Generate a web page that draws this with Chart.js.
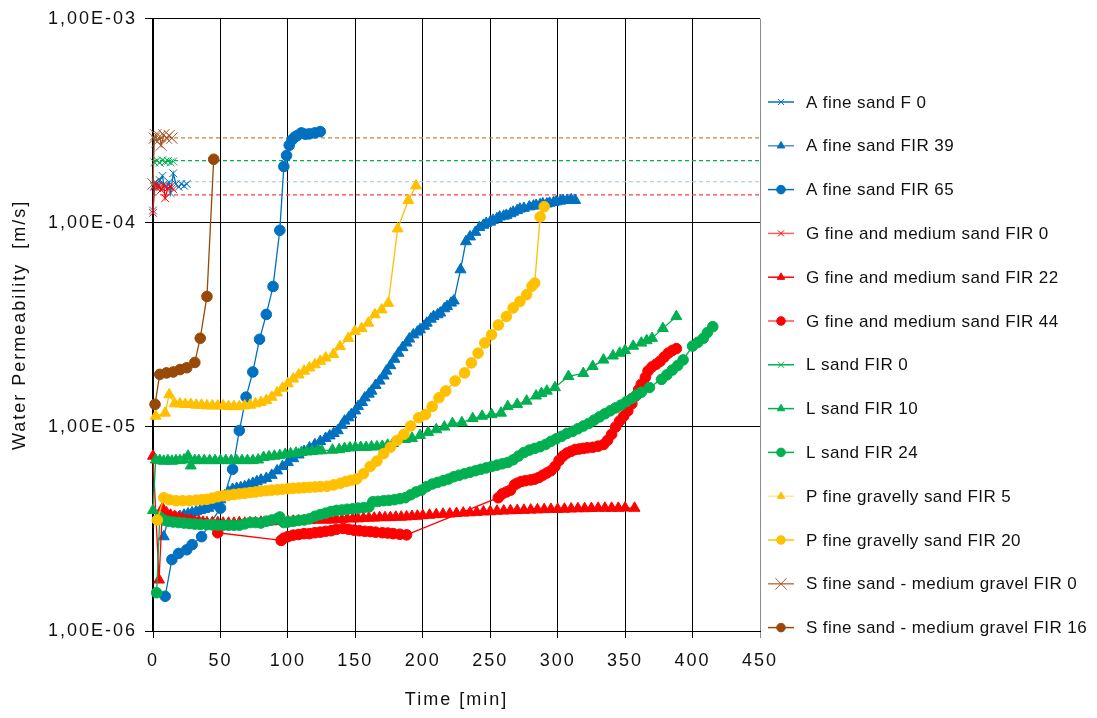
<!DOCTYPE html>
<html>
<head>
<meta charset="utf-8">
<script src="https://cdn.jsdelivr.net/npm/chart.js@4.4.1/dist/chart.umd.min.js"></script>
<style>
  html, body { margin: 0; padding: 0; background: #fff; }
  #wrap { width: 1097px; height: 718px; }
</style>
</head>
<body>
<div id="wrap"><canvas id="chart"></canvas></div>
<script>
// axis ticks
const xTickStep = 50;
const yTicks = [1e-6, 1e-5, 1e-4, 1e-3];

// [time min, permeability m/s]
const aF0 = [[0,1.15e-4],[1,1.5e-4],[2,1.58e-4],[4,1.52e-4],[5,1.62e-4],[7,1.7e-4],[8,1.55e-4],[10,1.5e-4],[12,1.58e-4],[13,1.4e-4],[15,1.75e-4],[17,1.55e-4],[19,1.5e-4],[21,1.55e-4],[23,1.52e-4],[25,1.55e-4]];
const aFir39 = [[8,2.9e-6],[11,3.5e-6],[14,3.55e-6],[17,3.6e-6],[20,3.65e-6],[23,3.7e-6],[26,3.75e-6],[29,3.8e-6],[32,3.85e-6],[35,3.9e-6],[38,3.95e-6],[41,4.0e-6],[44,4.1e-6],[47,4.25e-6],[50,4.4e-6],[53,4.6e-6],[56,4.8e-6],[59,4.95e-6],[62,5.0e-6],[65,5.05e-6],[68,5.1e-6],[71,5.2e-6],[74,5.3e-6],[77,5.4e-6],[80,5.5e-6],[84,5.6e-6],[88,5.8e-6],[92,6.1e-6],[96,6.4e-6],[100,6.7e-6],[104,7.0e-6],[108,7.3e-6],[112,7.6e-6],[116,7.9e-6],[120,8.2e-6],[124,8.5e-6],[128,8.8e-6],[131,9.05e-6],[134,9.3e-6],[137,9.6e-6],[140,1.02e-5],[142,1.07e-5],[145,1.11e-5],[147,1.15e-5],[150,1.2e-5],[152,1.26e-5],[155,1.32e-5],[157,1.39e-5],[160,1.45e-5],[162,1.5e-5],[165,1.6e-5],[168,1.68e-5],[171,1.78e-5],[173,1.88e-5],[176,2.0e-5],[179,2.15e-5],[182,2.3e-5],[185,2.45e-5],[188,2.58e-5],[190,2.7e-5],[193,2.83e-5],[196,2.92e-5],[198,3.0e-5],[201,3.12e-5],[203,3.23e-5],[206,3.38e-5],[208,3.48e-5],[211,3.55e-5],[213,3.62e-5],[216,3.8e-5],[218,3.9e-5],[221,4.05e-5],[223,4.15e-5],[228,5.9e-5],[232,8.1e-5],[235,8.55e-5],[239,9.0e-5],[242,9.5e-5],[245,9.75e-5],[247,9.95e-5],[250,1.01e-4],[252,1.03e-4],[255,1.05e-4],[257,1.07e-4],[260,1.08e-4],[262,1.09e-4],[265,1.11e-4],[267,1.13e-4],[270,1.15e-4],[272,1.17e-4],[275,1.18e-4],[279,1.2e-4],[282,1.21e-4],[284,1.22e-4],[287,1.23e-4],[289,1.24e-4],[292,1.24e-4],[294,1.25e-4],[297,1.26e-4],[299,1.27e-4],[302,1.28e-4],[304,1.29e-4],[307,1.29e-4],[310,1.3e-4],[313,1.29e-4]];
const aFir65 = [[9,1.48e-6],[14,2.24e-6],[19,2.4e-6],[25,2.5e-6],[29,2.65e-6],[36,2.9e-6],[50,4.0e-6],[59,6.2e-6],[64,9.6e-6],[69,1.4e-5],[74,1.86e-5],[79,2.69e-5],[84,3.56e-5],[89,4.88e-5],[94,9.2e-5],[97,1.89e-4],[99,2.14e-4],[101,2.4e-4],[103,2.55e-4],[105,2.63e-4],[107,2.68e-4],[110,2.76e-4],[113,2.72e-4],[116,2.73e-4],[120,2.76e-4],[124,2.8e-4]];
const gF0 = [[0,1.12e-4],[1,1.52e-4],[2,1.55e-4],[3,1.48e-4],[5,1.5e-4],[6,1.45e-4],[8,1.52e-4],[9,1.32e-4],[11,1.48e-4],[13,1.5e-4],[15,1.46e-4]];
const gFir22 = [[0,7.2e-6],[4.5,1.78e-6],[7,4.0e-6],[10,3.8e-6],[13,3.7e-6],[16,3.65e-6],[19,3.6e-6],[22,3.55e-6],[25,3.5e-6],[28,3.5e-6],[31,3.45e-6],[34,3.45e-6],[37,3.42e-6],[40,3.4e-6],[44,3.4e-6],[48,3.4e-6],[52,3.38e-6],[56,3.38e-6],[60,3.38e-6],[64,3.4e-6],[68,3.38e-6],[72,3.4e-6],[76,3.4e-6],[80,3.42e-6],[84,3.42e-6],[88,3.44e-6],[92,3.44e-6],[96,3.45e-6],[100,3.45e-6],[104,3.46e-6],[108,3.47e-6],[112,3.48e-6],[116,3.48e-6],[120,3.5e-6],[124,3.5e-6],[128,3.5e-6],[132,3.5e-6],[136,3.52e-6],[140,3.52e-6],[144,3.55e-6],[148,3.55e-6],[152,3.55e-6],[156,3.57e-6],[160,3.58e-6],[164,3.58e-6],[168,3.6e-6],[172,3.6e-6],[176,3.6e-6],[180,3.62e-6],[184,3.62e-6],[188,3.63e-6],[192,3.65e-6],[196,3.66e-6],[200,3.68e-6],[205,3.7e-6],[210,3.72e-6],[215,3.74e-6],[220,3.75e-6],[225,3.77e-6],[230,3.79e-6],[235,3.8e-6],[240,3.82e-6],[245,3.84e-6],[250,3.85e-6],[255,3.87e-6],[260,3.88e-6],[265,3.89e-6],[270,3.9e-6],[275,3.91e-6],[280,3.92e-6],[285,3.93e-6],[290,3.94e-6],[295,3.95e-6],[300,3.95e-6],[305,3.96e-6],[310,3.97e-6],[315,3.98e-6],[320,3.98e-6],[325,3.99e-6],[330,4.0e-6],[335,4.0e-6],[340,4.0e-6],[345,4.0e-6],[350,4.01e-6],[357,4.0e-6]];
const gFir44 = [[48,3.03e-6],[95,2.78e-6],[97,2.85e-6],[100,2.9e-6],[104,2.95e-6],[108,2.97e-6],[112,3.0e-6],[116,3.0e-6],[120,3.03e-6],[124,3.05e-6],[128,3.08e-6],[132,3.1e-6],[136,3.15e-6],[141,3.18e-6],[145,3.15e-6],[149,3.12e-6],[153,3.1e-6],[157,3.08e-6],[161,3.07e-6],[165,3.05e-6],[170,3.03e-6],[174,3.02e-6],[178,3.0e-6],[183,2.98e-6],[188,2.96e-6],[256,4.5e-6],[259,4.7e-6],[262,4.8e-6],[265,4.9e-6],[268,5.2e-6],[270,5.3e-6],[273,5.4e-6],[276,5.45e-6],[280,5.5e-6],[283,5.55e-6],[286,5.65e-6],[289,5.8e-6],[292,5.95e-6],[295,6.1e-6],[298,6.4e-6],[301,6.85e-6],[304,7.2e-6],[307,7.45e-6],[310,7.6e-6],[313,7.75e-6],[316,7.8e-6],[319,7.85e-6],[322,7.9e-6],[326,7.95e-6],[330,8.05e-6],[334,8.2e-6],[337,8.6e-6],[340,9.2e-6],[343,1.0e-5],[346,1.07e-5],[349,1.13e-5],[352,1.2e-5],[355,1.3e-5],[358,1.42e-5],[360,1.52e-5],[362,1.62e-5],[365,1.75e-5],[367,1.88e-5],[370,1.97e-5],[373,2.03e-5],[376,2.1e-5],[379,2.2e-5],[382,2.3e-5],[385,2.37e-5],[388,2.42e-5]];
const lF0 = [[1,1.98e-4],[3,2.02e-4],[5,1.97e-4],[7,2.03e-4],[9,1.99e-4],[11,2.01e-4],[13,1.98e-4],[15,2.0e-4]];
const lFir10 = [[0,3.9e-6],[2,6.9e-6],[5,6.85e-6],[8,6.8e-6],[11,6.85e-6],[14,6.8e-6],[17,6.85e-6],[20,6.85e-6],[23,6.9e-6],[26,7.2e-6],[28,6.45e-6],[31,6.85e-6],[34,6.85e-6],[38,6.85e-6],[42,6.85e-6],[46,6.85e-6],[50,6.85e-6],[54,6.85e-6],[58,6.85e-6],[62,6.85e-6],[66,6.85e-6],[70,6.85e-6],[74,6.85e-6],[78,6.9e-6],[82,7.1e-6],[86,7.15e-6],[90,7.2e-6],[94,7.25e-6],[98,7.35e-6],[102,7.4e-6],[106,7.45e-6],[110,7.5e-6],[114,7.55e-6],[118,7.6e-6],[122,7.65e-6],[125,7.65e-6],[133,7.7e-6],[138,7.75e-6],[142,7.85e-6],[146,7.9e-6],[150,7.95e-6],[154,7.95e-6],[158,7.95e-6],[162,8.0e-6],[166,8.0e-6],[170,8.05e-6],[174,8.15e-6],[178,8.3e-6],[183,8.7e-6],[187,8.7e-6],[192,8.8e-6],[198,9.1e-6],[204,9.4e-6],[210,9.7e-6],[216,1.0e-5],[222,1.04e-5],[229,1.05e-5],[237,1.1e-5],[244,1.13e-5],[251,1.15e-5],[258,1.17e-5],[263,1.26e-5],[270,1.29e-5],[277,1.34e-5],[284,1.42e-5],[288,1.46e-5],[292,1.5e-5],[298,1.56e-5],[308,1.77e-5],[319,1.83e-5],[326,1.98e-5],[334,2.13e-5],[341,2.23e-5],[346,2.3e-5],[350,2.37e-5],[356,2.49e-5],[362,2.58e-5],[366,2.65e-5],[370,2.72e-5],[378,3.04e-5],[388,3.48e-5]];
const lFir24 = [[2.7,1.54e-6],[5,3.6e-6],[8,3.5e-6],[11,3.45e-6],[15,3.42e-6],[19,3.4e-6],[23,3.38e-6],[27,3.36e-6],[31,3.34e-6],[35,3.33e-6],[40,3.32e-6],[44,3.31e-6],[48,3.3e-6],[52,3.3e-6],[56,3.3e-6],[60,3.3e-6],[64,3.3e-6],[68,3.35e-6],[72,3.4e-6],[76,3.4e-6],[80,3.38e-6],[84,3.45e-6],[88,3.5e-6],[92,3.55e-6],[94,3.62e-6],[97,3.4e-6],[100,3.42e-6],[104,3.45e-6],[108,3.48e-6],[112,3.5e-6],[116,3.55e-6],[120,3.65e-6],[124,3.72e-6],[128,3.78e-6],[132,3.85e-6],[136,3.9e-6],[140,3.92e-6],[144,3.95e-6],[148,3.97e-6],[152,4.0e-6],[156,4.02e-6],[160,4.05e-6],[163,4.3e-6],[167,4.32e-6],[171,4.35e-6],[175,4.37e-6],[179,4.4e-6],[183,4.45e-6],[187,4.5e-6],[191,4.65e-6],[195,4.8e-6],[199,4.9e-6],[203,5.1e-6],[207,5.25e-6],[211,5.35e-6],[215,5.45e-6],[219,5.55e-6],[223,5.7e-6],[227,5.8e-6],[231,5.9e-6],[235,6.0e-6],[239,6.1e-6],[243,6.2e-6],[247,6.3e-6],[251,6.4e-6],[255,6.5e-6],[259,6.6e-6],[263,6.7e-6],[267,6.9e-6],[271,7.2e-6],[275,7.5e-6],[279,7.7e-6],[283,7.85e-6],[287,8.0e-6],[291,8.2e-6],[295,8.5e-6],[299,8.75e-6],[303,9.0e-6],[307,9.3e-6],[311,9.5e-6],[315,9.8e-6],[319,1.01e-5],[323,1.04e-5],[327,1.08e-5],[331,1.12e-5],[335,1.16e-5],[339,1.2e-5],[343,1.24e-5],[347,1.28e-5],[351,1.33e-5],[355,1.38e-5],[359,1.44e-5],[362,1.48e-5],[368,1.56e-5],[377,1.71e-5],[381,1.8e-5],[385,1.9e-5],[389,2.0e-5],[393,2.13e-5],[400,2.49e-5],[404,2.6e-5],[408,2.72e-5],[411,2.9e-5],[415,3.1e-5]];
const pFir5 = [[2,1.13e-5],[9,1.17e-5],[12,1.44e-5],[16,1.3e-5],[20,1.3e-5],[24,1.29e-5],[28,1.29e-5],[32,1.28e-5],[36,1.28e-5],[40,1.27e-5],[44,1.27e-5],[48,1.27e-5],[52,1.27e-5],[56,1.26e-5],[60,1.26e-5],[64,1.26e-5],[68,1.27e-5],[72,1.28e-5],[76,1.3e-5],[80,1.32e-5],[84,1.35e-5],[88,1.4e-5],[92,1.47e-5],[96,1.55e-5],[100,1.63e-5],[104,1.72e-5],[108,1.8e-5],[112,1.88e-5],[116,1.95e-5],[120,2.02e-5],[124,2.1e-5],[128,2.18e-5],[133.7,2.27e-5],[138.6,2.48e-5],[144.8,2.72e-5],[149.7,2.94e-5],[154.7,3.04e-5],[159.6,3.23e-5],[164.5,3.55e-5],[169.5,3.75e-5],[174.4,4.04e-5],[181.4,9.36e-5],[189.3,1.29e-4],[195,1.52e-4]];
const pFir20 = [[3.2,3.5e-6],[8,4.5e-6],[12,4.4e-6],[17,4.35e-6],[22,4.35e-6],[27,4.35e-6],[32,4.38e-6],[36,4.4e-6],[40,4.42e-6],[44,4.48e-6],[48,4.55e-6],[52,4.6e-6],[56,4.63e-6],[60,4.67e-6],[64,4.7e-6],[68,4.73e-6],[72,4.77e-6],[76,4.8e-6],[80,4.85e-6],[84,4.87e-6],[88,4.9e-6],[92,4.92e-6],[96,4.95e-6],[100,4.98e-6],[104,5.0e-6],[108,5.02e-6],[112,5.04e-6],[116,5.06e-6],[120,5.08e-6],[124,5.1e-6],[129,5.12e-6],[134,5.2e-6],[139,5.3e-6],[143,5.4e-6],[147,5.48e-6],[151,5.56e-6],[156,5.9e-6],[161,6.4e-6],[166,6.8e-6],[171,7.4e-6],[176,7.95e-6],[181,8.6e-6],[186,9.2e-6],[191,1.01e-5],[197,1.11e-5],[202,1.15e-5],[207,1.26e-5],[212,1.39e-5],[217,1.5e-5],[224,1.68e-5],[231,1.84e-5],[236,2.06e-5],[241,2.3e-5],[246,2.58e-5],[251,2.83e-5],[256,3.16e-5],[262,3.48e-5],[267,3.83e-5],[272,4.12e-5],[277,4.45e-5],[281,4.9e-5],[283,5.07e-5],[287,1.07e-4],[290,1.2e-4]];
const sF0 = [[0,1.55e-4],[1,2.6e-4],[2,2.7e-4],[3,2.5e-4],[5,2.65e-4],[6,2.4e-4],[8,2.7e-4],[10,2.6e-4],[12,2.68e-4],[14,2.6e-4]];
const sFir16 = [[1.5,1.29e-5],[5,1.81e-5],[10,1.84e-5],[15,1.86e-5],[20,1.91e-5],[25,1.95e-5],[31,2.07e-5],[35,2.72e-5],[40,4.36e-5],[45,2.05e-4]];

// mean levels of the FIR 0 runs (dashed)
const meanX = [0, 450];
const meanA = 1.59e-4, meanG = 1.37e-4, meanL = 2.02e-4, meanS = 2.61e-4;

const FONT = '"Liberation Sans", Arial, sans-serif';
const toPts = arr => arr.map(p => ({ x: p[0], y: p[1] }));
const markerSize = { crossRot: 5.5, triangle: 6.3, circle: 5.3 };

function series(label, data, color, style, opts = {}) {
    return Object.assign({
        label: label,
        data: toPts(data),
        borderColor: color,
        backgroundColor: color,
        pointBackgroundColor: color,
        pointBorderColor: color,
        pointStyle: style,
        pointRadius: markerSize[style],
        pointBorderWidth: 1,
        borderWidth: 1.3,
        clip: false
    }, opts);
}

function meanLine(value, color) {
    return {
        label: '', hideInLegend: true,
        data: meanX.map(x => ({ x: x, y: value })),
        borderColor: color, borderWidth: 1.2, borderDash: [4, 3],
        pointRadius: 0, order: 100
    };
}

const datasets = [
    meanLine(meanS, '#C8824A'),
    meanLine(meanL, '#00B050'),
    meanLine(meanA, '#9DC3E6'),
    meanLine(meanG, '#FF4040'),
    series('A fine sand F 0', aF0, '#0070C0', 'crossRot'),
    series('A fine sand FIR 39', aFir39, '#0070C0', 'triangle', { legendLine: '#4F94D4' }),
    series('A fine sand FIR 65', aFir65, '#0070C0', 'circle'),
    series('G fine and medium sand FIR 0', gF0, '#FF0000', 'crossRot', { legendLine: '#FF6060' }),
    series('G fine and medium sand FIR 22', gFir22, '#FF0000', 'triangle'),
    series('G fine and medium sand FIR 44', gFir44, '#FF0000', 'circle', { legendLine: '#FF5050' }),
    series('L sand FIR 0', lF0, '#00B050', 'crossRot'),
    series('L sand FIR 10', lFir10, '#00B050', 'triangle'),
    series('L sand FIR 24', lFir24, '#00B050', 'circle'),
    series('P fine gravelly sand FIR 5', pFir5, '#FFC000', 'triangle', { legendLine: '#FFE699' }),
    series('P fine gravelly sand FIR 20', pFir20, '#FFC000', 'circle'),
    series('S fine sand - medium gravel FIR 0', sF0, '#A0582A', 'crossRot', { pointRadius: 8, legendLine: '#C07A4A', legendRadius: 8 }),
    series('S fine sand - medium gravel FIR 16', sFir16, '#984807', 'circle')
];
// later series on top, as in the original
datasets.forEach((d, i) => { if (d.order === undefined) d.order = 50 - i; });

function sci(v) {
    const parts = v.toExponential(2).split('e');
    const e = parseInt(parts[1], 10);
    return parts[0].replace('.', ',') + 'E' + (e < 0 ? '-' : '+') + String(Math.abs(e)).padStart(2, '0');
}

const spacing = {
    id: 'spacing',
    beforeLayout(c) { c.ctx.letterSpacing = '2px'; },
    beforeDraw(c) { c.ctx.letterSpacing = '2px'; }
};

const sideLegend = {
    id: 'sideLegend',
    afterDraw(chart) {
        const ctx = chart.ctx;
        const left = chart.chartArea.right + 8;
        let y = 102;
        ctx.save();
        ctx.letterSpacing = '0.4px';
        ctx.font = '17px ' + FONT;
        ctx.textBaseline = 'middle';
        ctx.textAlign = 'left';
        chart.data.datasets.forEach(ds => {
            if (ds.hideInLegend) return;
            ctx.setLineDash([]);
            ctx.strokeStyle = ds.legendLine || ds.borderColor;
            ctx.lineWidth = 1.5;
            ctx.beginPath();
            ctx.moveTo(left, y);
            ctx.lineTo(left + 26, y);
            ctx.stroke();
            ctx.fillStyle = ds.pointBackgroundColor;
            ctx.strokeStyle = ds.pointBorderColor;
            ctx.lineWidth = 1;
            Chart.helpers.drawPoint(ctx, { pointStyle: ds.pointStyle, radius: ds.legendRadius || 4.3, borderWidth: 1, rotation: 0 }, left + 13, y);
            ctx.fillStyle = '#111';
            ctx.fillText(ds.label, left + 38, y + 1);
            y += 43.8;
        });
        ctx.restore();
    }
};

new Chart(document.getElementById('chart'), {
    type: 'line',
    data: { datasets: datasets },
    options: {
        responsive: true,
        maintainAspectRatio: false,
        animation: false,
        layout: { padding: { top: 16, right: 337, left: 0, bottom: 0 } },
        plugins: { legend: { display: false }, tooltip: { enabled: false } },
        scales: {
            x: {
                type: 'linear', min: 0, max: 450,
                afterFit: s => { s.height = 87; },
                ticks: { stepSize: xTickStep, padding: 12, color: '#111', font: { family: FONT, size: 18 } },
                grid: { color: c => (c.tick && c.tick.value === 450) ? '#8c8c8c' : '#000', lineWidth: 1, tickLength: 7 },
                border: { color: '#000', width: 1 },
                title: { display: true, text: 'Time [min]', color: '#111', font: { family: FONT, size: 18 }, padding: { top: 4, bottom: 7 } }
            },
            y: {
                type: 'logarithmic', min: 1e-6, max: 1e-3,
                afterFit: s => { s.width = 153; },
                afterBuildTicks: s => { s.ticks = yTicks.map(v => ({ value: v })); },
                ticks: { callback: v => sci(v), padding: 8, color: '#111', font: { family: FONT, size: 18 } },
                grid: { color: '#000', lineWidth: 1, tickLength: 8 },
                border: { color: '#000', width: 2 },
                title: { display: true, text: 'Water Permeability  [m/s]', color: '#111', font: { family: FONT, size: 18 }, padding: { top: 9, bottom: 4 } }
            }
        }
    },
    plugins: [spacing, sideLegend]
});
</script>
</body>
</html>
